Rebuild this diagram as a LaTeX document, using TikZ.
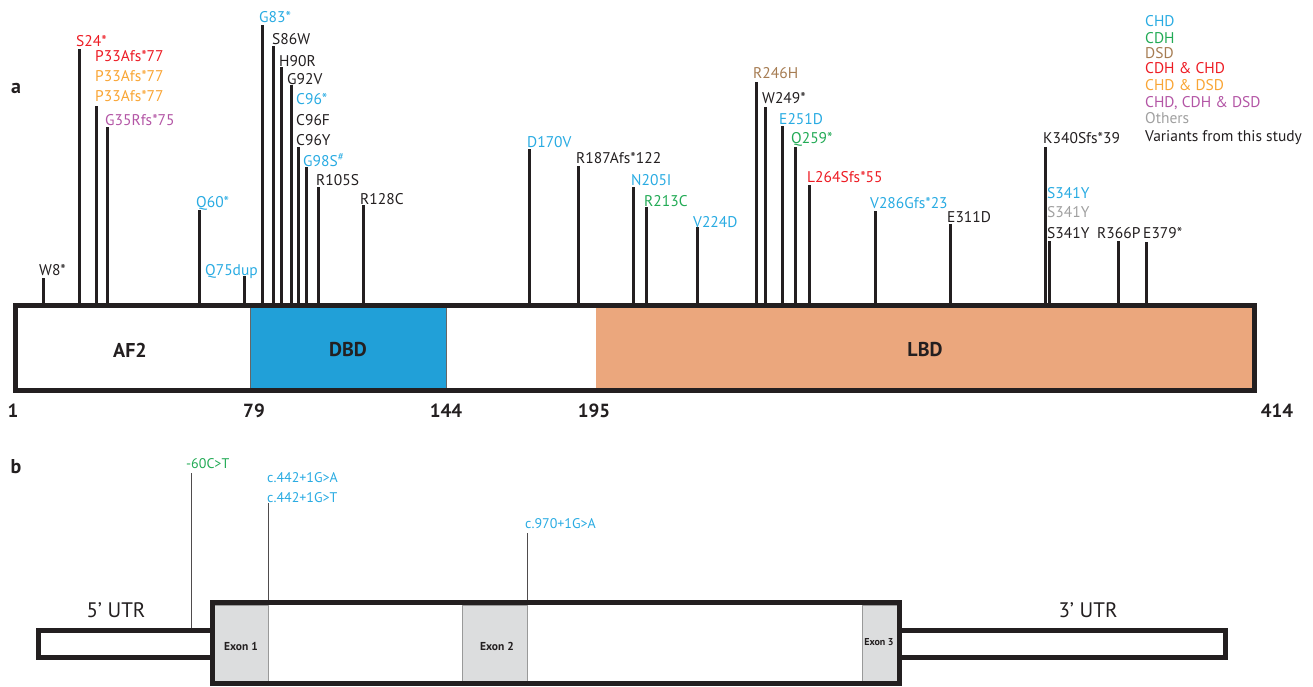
\documentclass[tikz,border=0pt]{standalone}
\usepackage{fontspec}
\setmainfont{PT Sans}
\definecolor{chd}{HTML}{29ABE2}
\definecolor{cdh}{HTML}{22AA55}
\definecolor{dsd}{HTML}{A67C52}
\definecolor{cdhchd}{HTML}{ED1C24}
\definecolor{chddsd}{HTML}{F9A535}
\definecolor{allthree}{HTML}{B355A5}
\definecolor{oth}{HTML}{A0A0A0}
\definecolor{ink}{HTML}{231F20}
\definecolor{dbdc}{HTML}{21A0D8}
\definecolor{lbdc}{HTML}{EBA77D}
\definecolor{exonc}{HTML}{DCDDDE}
\begin{document}
\begin{tikzpicture}[x=1pt,y=-1pt,
  lab/.style={anchor=base west, inner sep=0pt, text=ink, font=\fontsize{15.5}{18}\selectfont},
  blab/.style={anchor=base west, inner sep=0pt, font=\fontsize{14}{17}\selectfont},
  stemline/.style={line width=3pt, draw=ink},
  thinstem/.style={line width=1pt, draw=ink!80},
  dom/.style={inner sep=0pt, text=ink, font=\fontsize{20}{24}\selectfont\bfseries},
  num/.style={inner sep=0pt, text=ink, font=\fontsize{19}{22}\selectfont\bfseries},
  panel/.style={inner sep=0pt, text=ink, font=\fontsize{20}{24}\selectfont\bfseries},
  heavy/.style={line width=5pt, draw=ink},
  exonbox/.style={fill=exonc, draw=black!40, line width=0.8pt},
  exonlab/.style={inner sep=0pt, text=ink, font=\fontsize{11.5}{13}\selectfont\bfseries},
  utr/.style={inner sep=0pt, text=ink, font=\fontsize{21}{25}\selectfont},
]
\useasboundingbox (0,0) rectangle (1313,686);

% ---------- panel a : stems ----------
\foreach \i/\x/\t in {1/43/278, 2/79/49, 3/96/106, 4/107/127, 5/199/210, 6/244/276,
  7/262/25, 8/273/46, 9/281/67, 10/291/85, 11/298/147, 12/306/167, 13/318/187,
  14/363/205, 15/529/149, 16/578/166, 17/633/187, 18/646/207, 19/697/227,
  20/756/82, 21/765/107, 22/782/126, 23/795/147, 24/809/185, 25/875/211,
  26/950/224, 27/1045/147, 28/1049/241, 29/1118/241, 30/1146/242} {
  \coordinate (sb\i) at (\x,305);
  \coordinate (st\i) at (\x,\t);
  \draw[stemline] (sb\i) -- (st\i);
}

% ---------- panel a : protein bar ----------
\fill[white] (15,305) rectangle (250,390);
\fill[dbdc] (250,305) rectangle (446,390);
\fill[lbdc] (596,305) rectangle (1254,390);
\draw[black!60, line width=0.6pt] (250,305) -- (250,390) (446,305) -- (446,390);
\draw[heavy] (15.5,305.5) rectangle (1254.5,390.5);
\node[dom] (af2) at (130,350) {AF2};
\node[dom] (dbd) at (348,350) {DBD};
\node[dom] (lbd) at (925,350) {LBD};

\node[num] (n1) at (13,411) {1};
\node[num] (n79) at (254,411) {79};
\node[num] (n144) at (446,411) {144};
\node[num] (n195) at (594,411) {195};
\node[num] (n414) at (1277,411) {414};

\node[panel] (pa) at (16,88) {a};
\node[panel] (pb) at (16,467) {b};

% ---------- panel a : variant labels ----------
\node[lab] (l1) at (39,275) {W8*};
\node[lab, text=cdhchd] (l2) at (76,46) {S24*};
\node[lab, text=cdhchd] (l3a) at (95,61) {P33Afs*77};
\node[lab, text=chddsd] (l3b) at (95,81) {P33Afs*77};
\node[lab, text=chddsd] (l3c) at (95,101) {P33Afs*77};
\node[lab, text=allthree] (l4) at (105,125) {G35Rfs*75};
\node[lab, text=chd] (l5) at (196,207) {Q60*};
\node[lab, text=chd] (l6) at (205,275) {Q75dup};
\node[lab, text=chd] (l7) at (259,22) {G83*};
\node[lab] (l8) at (272,44) {S86W};
\node[lab] (l9) at (279,66) {H90R};
\node[lab] (l10) at (287,84) {G92V};
\node[lab, text=chd] (l11a) at (296,104) {C96*};
\node[lab] (l11b) at (296,125) {C96F};
\node[lab] (l11c) at (296,145) {C96Y};
\node[lab, text=chd] (l12) at (303,166) {G98S\textsuperscript{\#}};
\node[lab] (l13) at (316,185) {R105S};
\node[lab] (l14) at (360,204) {R128C};
\node[lab, text=chd] (l15) at (527,147) {D170V};
\node[lab] (l16) at (576,163) {R187Afs*122};
\node[lab, text=chd] (l17) at (631,185) {N205I};
\node[lab, text=cdh] (l18) at (644,206) {R213C};
\node[lab, text=chd] (l19) at (693,227) {V224D};
\node[lab, text=dsd] (l20) at (753,78) {R246H};
\node[lab] (l21) at (762,103) {W249*};
\node[lab, text=chd] (l22) at (779,124) {E251D};
\node[lab, text=cdh] (l23) at (791,143) {Q259*};
\node[lab, text=cdhchd] (l24) at (807,182) {L264Sfs*55};
\node[lab, text=chd] (l25) at (870,208) {V286Gfs*23};
\node[lab] (l26) at (947,222) {E311D};
\node[lab] (l27) at (1043,143) {K340Sfs*39};
\node[lab, text=chd] (l28a) at (1047,198) {S341Y};
\node[lab, text=oth] (l28b) at (1047,217) {S341Y};
\node[lab] (l28c) at (1047,238) {S341Y};
\node[lab] (l29) at (1097,238) {R366P};
\node[lab] (l30) at (1143,238) {E379*};

% ---------- legend ----------
\node[lab, text=chd] (g1) at (1145,26) {CHD};
\node[lab, text=cdh] (g2) at (1145,43) {CDH};
\node[lab, text=dsd] (g3) at (1145,58) {DSD};
\node[lab, text=cdhchd] (g4) at (1145,73) {CDH \& CHD};
\node[lab, text=chddsd] (g5) at (1145,90) {CHD \& DSD};
\node[lab, text=allthree] (g6) at (1145,107) {CHD, CDH \& DSD};
\node[lab, text=oth] (g7) at (1145,123) {Others};
\node[lab] (g8) at (1145,141) {Variants from this study};

% ---------- panel b : gene ----------
\fill[white] (212,602) rectangle (900,684);
\draw[exonbox] (214,605) rectangle (268,681);
\draw[exonbox] (462,605) rectangle (527,681);
\draw[exonbox] (862,605) rectangle (897,681);
\draw[heavy] (212.5,602.5) rectangle (899.5,683.5);
\draw[heavy] (38.5,630.5) rectangle (212.5,657.5);
\draw[heavy] (899.5,630.5) rectangle (1225.5,657.5);
\node[exonlab] (e1) at (241,646) {Exon 1};
\node[exonlab] (e2) at (497,646) {Exon 2};
\node[exonlab, font=\fontsize{10}{12}\selectfont\bfseries] (e3) at (879,642) {Exon 3};
\node[utr] (u5) at (116,610) {5’ UTR};
\node[utr] (u3) at (1088,610) {3’ UTR};

\coordinate (m1b) at (191.5,628);
\coordinate (m1t) at (191.5,473);
\coordinate (m2b) at (268.5,600);
\coordinate (m2t) at (268.5,503);
\coordinate (m3b) at (527,600);
\coordinate (m3t) at (527,533);
\draw[thinstem] (m1b) -- (m1t);
\draw[thinstem] (m2b) -- (m2t);
\draw[thinstem] (m3b) -- (m3t);
\node[blab, text=cdh] (v1) at (186,468) {-60C>T};
\node[blab, text=chd] (v2a) at (267,482) {c.442+1G>A};
\node[blab, text=chd] (v2b) at (267,502) {c.442+1G>T};
\node[blab, text=chd] (v3) at (525,528) {c.970+1G>A};
\end{tikzpicture}
\end{document}
